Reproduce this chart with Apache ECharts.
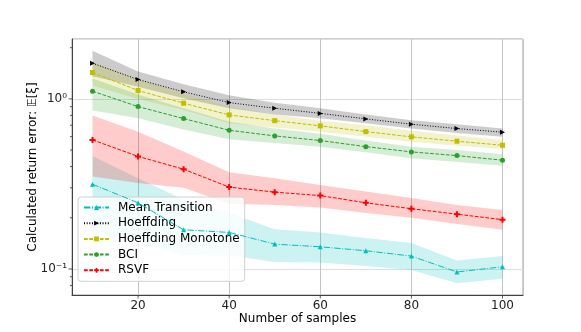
<!DOCTYPE html>
<html>
<head>
<meta charset="utf-8">
<script src="https://cdn.jsdelivr.net/npm/echarts@6/dist/echarts.min.js"></script>
<style>
html, body { margin: 0; padding: 0; background: #fff; }
#chart { width: 581px; height: 332px; }
</style>
</head>
<body>
<div id="chart"></div>
<script>
// 数据 (x = number of samples)
var samples = [10, 20, 30, 40, 50, 60, 70, 80, 90, 100];

var meanTransition     = [0.315, 0.245, 0.170, 0.164, 0.140, 0.135, 0.128, 0.119, 0.096, 0.103];
var meanTransitionLow  = [0.167, 0.145, 0.121, 0.120, 0.110, 0.109, 0.104, 0.0987, 0.0824, 0.0877];
var meanTransitionHigh = [0.462, 0.342, 0.255, 0.213, 0.171, 0.164, 0.152, 0.142, 0.112, 0.119];

var hoeffding     = [1.62, 1.30, 1.10, 0.951, 0.881, 0.822, 0.763, 0.710, 0.669, 0.637];
var hoeffdingLow  = [1.36, 1.18, 1.01, 0.88, 0.81, 0.77, 0.72, 0.67, 0.63, 0.60];
var hoeffdingHigh = [1.92, 1.45, 1.22, 1.05, 0.95, 0.88, 0.81, 0.75, 0.71, 0.67];

var monotone     = [1.43, 1.12, 0.943, 0.805, 0.745, 0.694, 0.642, 0.598, 0.564, 0.534];
var monotoneLow  = [1.20, 1.00, 0.86, 0.72, 0.68, 0.642, 0.60, 0.56, 0.53, 0.508];
var monotoneHigh = [1.65, 1.30, 1.08, 0.90, 0.81, 0.745, 0.70, 0.65, 0.61, 0.574];

var bci     = [1.11, 0.901, 0.766, 0.654, 0.606, 0.569, 0.524, 0.488, 0.464, 0.436];
var bciLow  = [0.855, 0.77, 0.66, 0.58, 0.55, 0.524, 0.485, 0.448, 0.425, 0.405];
var bciHigh = [1.32, 1.06, 0.88, 0.735, 0.67, 0.623, 0.57, 0.524, 0.50, 0.473];

var rsvf     = [0.574, 0.459, 0.386, 0.303, 0.283, 0.270, 0.245, 0.226, 0.210, 0.195];
var rsvfLow  = [0.35, 0.32, 0.30, 0.242, 0.238, 0.230, 0.213, 0.200, 0.184, 0.170];
var rsvfHigh = [0.80, 0.64, 0.49, 0.37, 0.342, 0.312, 0.285, 0.261, 0.238, 0.222];

// 轴刻度
var xTicks = [20, 40, 60, 80, 100];
var yMajorTicks = [0.1, 1];
var yMinorTicks = [0.08, 0.09, 0.2, 0.3, 0.4, 0.5, 0.6, 0.7, 0.8, 0.9, 2];

var xMin = 5.5, xMax = 104.5;
var yMin = 0.0703, yMax = 2.25;

var FONT = 'DejaVu Sans';
var legendNames = ['Mean Transition', 'Hoeffding', 'Hoeffding Monotone', 'BCI', 'RSVF'];

let myChart = echarts.init(document.getElementById('chart'));

function pairs(arr) {
    return samples.map(function (x, i) { return [x, arr[i]]; });
}

// 置信区间: 一个多边形 (上界 -> 下界反向)
function band(low, high, color) {
    return {
        type: 'custom',
        silent: true,
        z: 1,
        data: samples.map(function (x, i) { return [x, low[i], high[i]]; }),
        encode: { x: 0, y: [1, 2] },
        renderItem: function (params, api) {
            if (params.dataIndex !== 0) return;
            var pts = [];
            for (var i = 0; i < samples.length; i++) pts.push(api.coord([samples[i], high[i]]));
            for (var j = samples.length - 1; j >= 0; j--) pts.push(api.coord([samples[j], low[j]]));
            return {
                type: 'polygon',
                shape: { points: pts },
                style: { fill: color, opacity: 0.2 }
            };
        }
    };
}

function curve(name, values, color, dash, symbol, size, rotate) {
    return {
        name: name,
        type: 'line',
        data: pairs(values),
        symbol: symbol,
        symbolSize: size,
        symbolRotate: rotate || 0,
        itemStyle: { color: color },
        lineStyle: { color: color, width: 1, type: dash },
        z: 5
    };
}

var plusPath = 'path://M1,0H2V1H3V2H2V3H1V2H0V1H1Z';

function tickSeries(data, isX) {
    return {
        type: 'custom',
        silent: true,
        clip: false,
        z: 6,
        data: data,
        renderItem: function (params, api) {
            var p = api.coord([api.value(0), api.value(1)]);
            var len = api.value(2);
            var shape = isX
                ? { x1: p[0], y1: p[1], x2: p[0], y2: p[1] + len }
                : { x1: p[0] - len, y1: p[1], x2: p[0], y2: p[1] };
            return { type: 'line', shape: shape, style: { stroke: '#333', lineWidth: 0.8 } };
        }
    };
}

let series = [
    band(meanTransitionLow, meanTransitionHigh, '#00bfbf'),
    band(hoeffdingLow, hoeffdingHigh, '#000000'),
    band(monotoneLow, monotoneHigh, '#bfbf00'),
    band(bciLow, bciHigh, '#2ca02c'),
    band(rsvfLow, rsvfHigh, '#ff0000'),
    curve('Mean Transition', meanTransition, '#00bfbf', [6.4, 1.6, 1, 1.6], 'triangle', 5),
    curve('Hoeffding', hoeffding, '#000000', [1, 1.65], 'triangle', 5, -90),
    curve('Hoeffding Monotone', monotone, '#bfbf00', [3.7, 1.6], 'rect', 5),
    curve('BCI', bci, '#2ca02c', [3.7, 1.6], 'circle', 5),
    curve('RSVF', rsvf, '#ff0000', [3.7, 1.6], plusPath, 6),
    tickSeries(xTicks.map(function (v) { return [v, yMin, 3.5]; }), true),
    tickSeries(yMajorTicks.map(function (v) { return [xMin, v, 3.5]; }), false),
    tickSeries(yMinorTicks.map(function (v) { return [xMin, v, 2]; }), false)
];

let option = {
    animation: false,
    backgroundColor: '#ffffff',
    textStyle: { fontFamily: FONT },
    grid: {
        left: 72,
        right: 58,
        top: 39,
        bottom: 37,
        show: true,
        borderColor: '#a0a0a0',
        borderWidth: 1
    },
    legend: {
        data: legendNames,
        orient: 'vertical',
        left: 78,
        top: 197,
        itemWidth: 25,
        itemHeight: 6,
        itemGap: 3.7,
        padding: [4.5, 5, 5, 5],
        backgroundColor: 'rgba(255,255,255,0.8)',
        borderColor: '#d0d0d0',
        borderWidth: 1,
        borderRadius: 3,
        textStyle: { fontFamily: FONT, fontSize: 12, color: '#000', padding: [0, 0, 0, 4] }
    },
    xAxis: {
        type: 'value',
        min: xMin,
        max: xMax,
        name: 'Number of samples',
        nameLocation: 'middle',
        nameGap: 18,
        nameMoveOverlap: false,
        nameTextStyle: { fontFamily: FONT, fontSize: 12, color: '#000' },
        axisLine: { show: true, lineStyle: { color: '#404040', width: 1 } },
        axisTick: { show: false },
        axisLabel: {
            margin: 5,
            fontFamily: FONT,
            fontSize: 12,
            color: '#222',
            formatter: function (v) {
                return xTicks.indexOf(v) >= 0 ? String(v) : '';
            }
        },
        splitLine: { show: true, lineStyle: { color: '#c4c4c4', width: 1 } }
    },
    yAxis: {
        type: 'log',
        logBase: 10,
        min: yMin,
        max: yMax,
        name: 'Calculated return error: 𝔼[ξ]',
        nameLocation: 'middle',
        nameGap: 33,
        nameMoveOverlap: false,
        nameTextStyle: { fontFamily: FONT, fontSize: 12, color: '#000' },
        axisLine: { show: true, lineStyle: { color: '#404040', width: 1 } },
        axisTick: { show: false },
        axisLabel: {
            margin: 5,
            fontFamily: FONT,
            fontSize: 12,
            color: '#222',
            formatter: function (v) {
                if (Math.abs(v - 1) < 1e-9) return '10⁰';
                if (Math.abs(v - 0.1) < 1e-9) return '10⁻¹';
                return '';
            }
        },
        splitLine: { show: true, lineStyle: { color: '#dedede', width: 1 } }
    },
    series: series
};

myChart.setOption(option, true);
</script>
</body>
</html>
